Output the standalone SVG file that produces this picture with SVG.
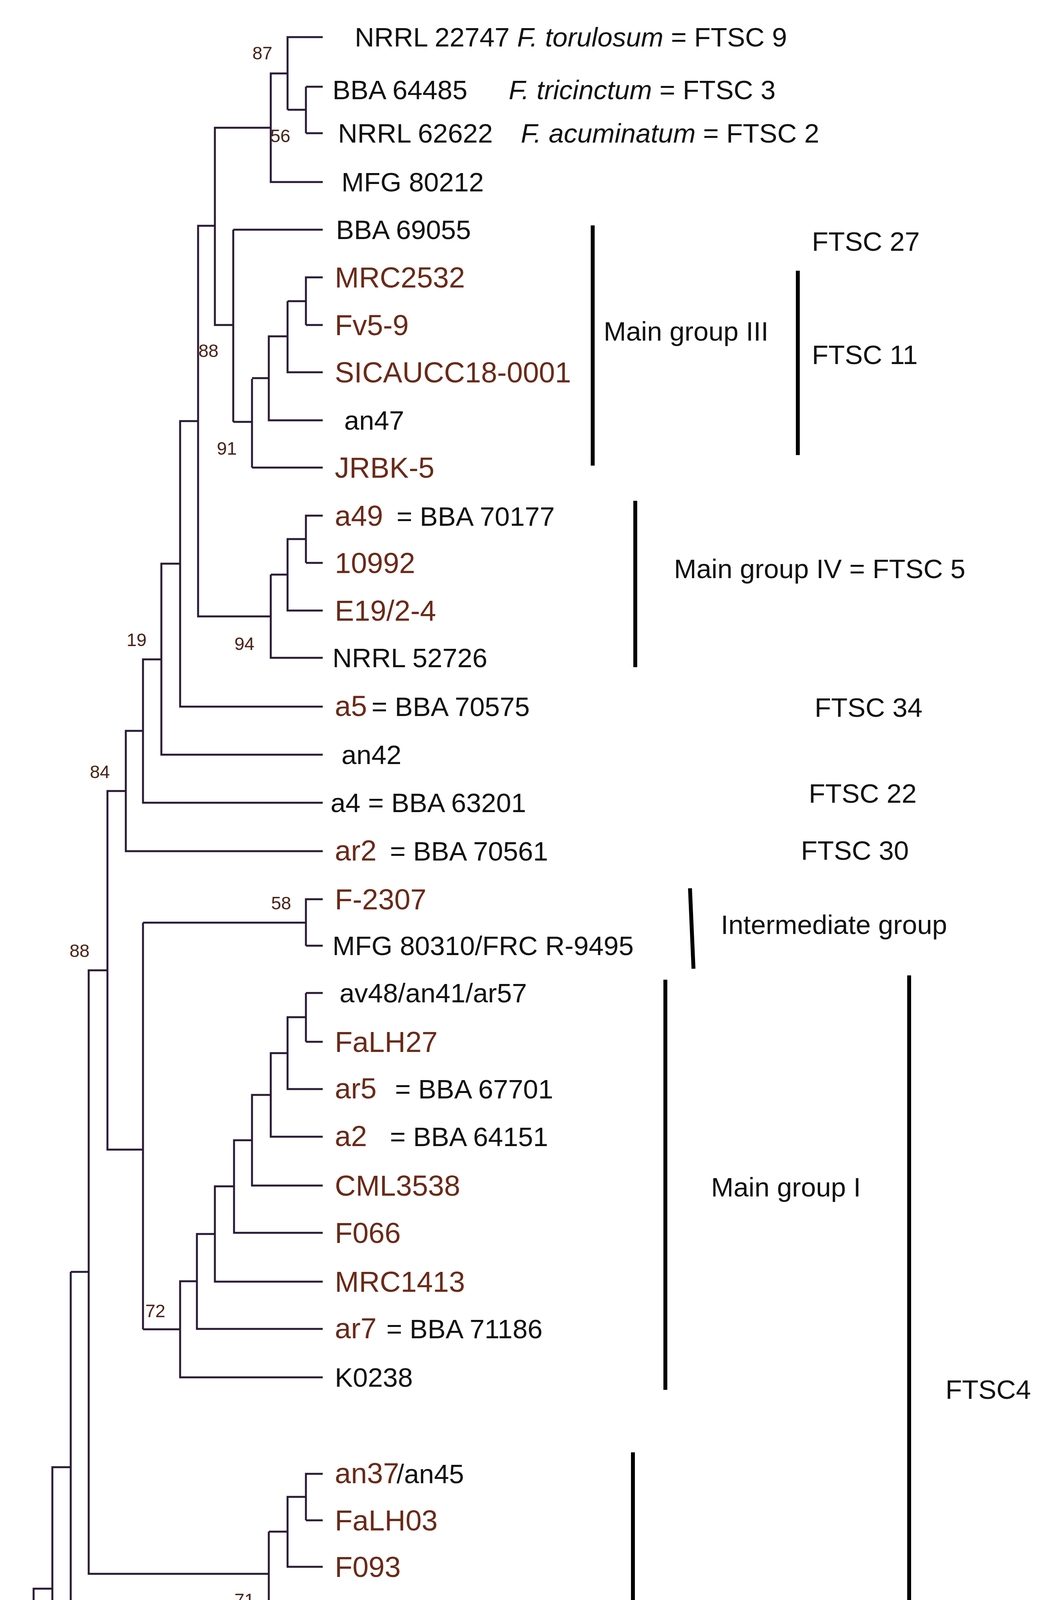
<svg xmlns="http://www.w3.org/2000/svg" width="2667" height="4827" viewBox="0 0 2667 4827">
<style>
text{font-family:"Liberation Sans",Arial,sans-serif;font-size:69px;fill:#111}
.b{fill:#6a2a18;font-size:74px}
.n{fill:#4a2418;font-size:46px}
.e path{fill:none;stroke:#2a1a35;stroke-width:5}
.bar{stroke:#000;stroke-width:10}
</style>
<rect width="2667" height="4827" fill="#fff"/>
<g id="connectors" class="e">
<path d="M826 95H736V281M783 222V341M826 222H783M826 341H783M736 281H783M736 188H693V466H826M693 327H550V832H597M597 588V1080M826 588H597M597 1080H645V970M645 1197V970M826 1197H645M645 968H688V1076H826M688 968V861H736M736 771V953H826M736 771H783V710H826M783 832H826M783 710V832"/>
<path d="M550 578H507V1578H693M693 1471V1684H826M693 1471H736V1563H826M736 1471V1380H783V1320H826M783 1441H826M783 1320V1441"/>
<path d="M507 1078H461V1809H826M461 1443H413V1932H826M413 1688H366V2055H826M366 1871H322V2179H826M322 2025H275V2943H366M366 2362V3403"/>
<path d="M366 2362H783V2302H826M783 2421H826M783 2302V2421"/>
<path d="M783 2542H826M783 2667H826M783 2542V2667M783 2604H736V2788H826M736 2696H693V2910H826M693 2803H645V3035H826M645 2919H599V3156H826M599 3037H550V3281H826M550 3159H504V3402H826M504 3280H461V3526H826M461 3403H366"/>
<path d="M275 2484H227V4029H688M181 3256H227M181 3256V4257H826M181 3756H134V4378H826M134 4067H86V4563H783M783 4506V4622M783 4506H826M783 4622H826M86 4315H40V4749H826"/>
<path d="M688 3921V4133H826M688 3921H736V4011H826M736 3921V3832H783V3773H826M783 3892H826M783 3773V3892"/>
</g>
<g id="bars">
<line class="bar" x1="1517" y1="577" x2="1517" y2="1192"/>
<line class="bar" x1="2042" y1="693" x2="2042" y2="1165"/>
<line class="bar" x1="1626" y1="1282" x2="1626" y2="1708"/>
<line class="bar" x1="1766" y1="2274" x2="1775" y2="2480"/>
<line class="bar" x1="1703" y1="2508" x2="1703" y2="3558"/>
<line class="bar" x1="2327" y1="2497" x2="2327" y2="4754"/>
<line class="bar" x1="1620" y1="3718" x2="1620" y2="4759"/>
</g>
<g id="support">
<text class="n" x="646" y="152">87</text>
<text class="n" x="692" y="364">56</text>
<text class="n" x="508" y="914">88</text>
<text class="n" x="555" y="1164">91</text>
<text class="n" x="600" y="1664">94</text>
<text class="n" x="324" y="1654">19</text>
<text class="n" x="230" y="1992">84</text>
<text class="n" x="178" y="2450">88</text>
<text class="n" x="694" y="2328">58</text>
<text class="n" x="372" y="3372">72</text>
<text class="n" x="600" y="4112">71</text>
</g>
<g id="leaves">
<text x="908" y="119">NRRL 22747 <tspan font-style="italic">F. torulosum</tspan> = FTSC 9</text>
<text x="851" y="254">BBA 64485<tspan x="1302" font-style="italic">F. tricinctum</tspan> = FTSC 3</text>
<text x="865" y="365">NRRL 62622<tspan x="1333" font-style="italic">F. acuminatum</tspan> = FTSC 2</text>
<text x="874" y="490">MFG 80212</text>
<text x="860" y="612">BBA 69055</text>
<text class="b" x="857" y="736">MRC2532</text>
<text class="b" x="857" y="858">Fv5-9</text>
<text class="b" x="857" y="979">SICAUCC18-0001</text>
<text x="881" y="1100">an47</text>
<text class="b" x="857" y="1223">JRBK-5</text>
<text x="857" y="1346"><tspan class="b">a49</tspan><tspan x="1015">= BBA 70177</tspan></text>
<text class="b" x="857" y="1467">10992</text>
<text class="b" x="857" y="1589">E19/2-4</text>
<text x="851" y="1708">NRRL 52726</text>
<text x="857" y="1833"><tspan class="b">a5</tspan><tspan x="951">= BBA 70575</tspan></text>
<text x="874" y="1956">an42</text>
<text x="846" y="2079">a4 = BBA 63201</text>
<text x="857" y="2203"><tspan class="b">ar2</tspan><tspan x="998">= BBA 70561</tspan></text>
<text class="b" x="857" y="2328">F-2307</text>
<text x="851" y="2445">MFG 80310/FRC R-9495</text>
<text x="869" y="2566">av48/an41/ar57</text>
<text class="b" x="857" y="2693">FaLH27</text>
<text x="857" y="2812"><tspan class="b">ar5</tspan><tspan x="1011">= BBA 67701</tspan></text>
<text x="857" y="2934"><tspan class="b">a2</tspan><tspan x="998">= BBA 64151</tspan></text>
<text class="b" x="857" y="3061">CML3538</text>
<text class="b" x="857" y="3182">F066</text>
<text class="b" x="857" y="3307">MRC1413</text>
<text x="857" y="3426"><tspan class="b">ar7</tspan><tspan x="989">= BBA 71186</tspan></text>
<text x="857" y="3550">K0238</text>
<text x="857" y="3797"><tspan class="b">an37</tspan><tspan x="1015">/an45</tspan></text>
<text class="b" x="857" y="3918">FaLH03</text>
<text class="b" x="857" y="4037">F093</text>
<text x="872" y="4157">MFG 74005</text>
<text x="881" y="4281">MFG 111502</text>
<text x="877" y="4402">NRRL 25128</text>
<text class="b" x="857" y="4532">F-132</text>
<text x="857" y="4646">NRRL 54939</text>
<text x="857" y="4773"><tspan class="b">ar1</tspan><tspan x="975">= BBA 70576</tspan></text>
</g>
<g id="groups">
<text x="2078" y="642">FTSC 27</text>
<text x="1545" y="872">Main group III</text>
<text x="2078" y="932">FTSC 11</text>
<text x="1725" y="1480">Main group IV = FTSC 5</text>
<text x="2085" y="1835">FTSC 34</text>
<text x="2070" y="2055">FTSC 22</text>
<text x="2050" y="2201">FTSC 30</text>
<text x="1845" y="2391">Intermediate group</text>
<text x="1820" y="3063">Main group I</text>
<text x="2420" y="3581">FTSC4</text>
<text x="1765" y="4253">Main group II</text>
</g>
</svg>
